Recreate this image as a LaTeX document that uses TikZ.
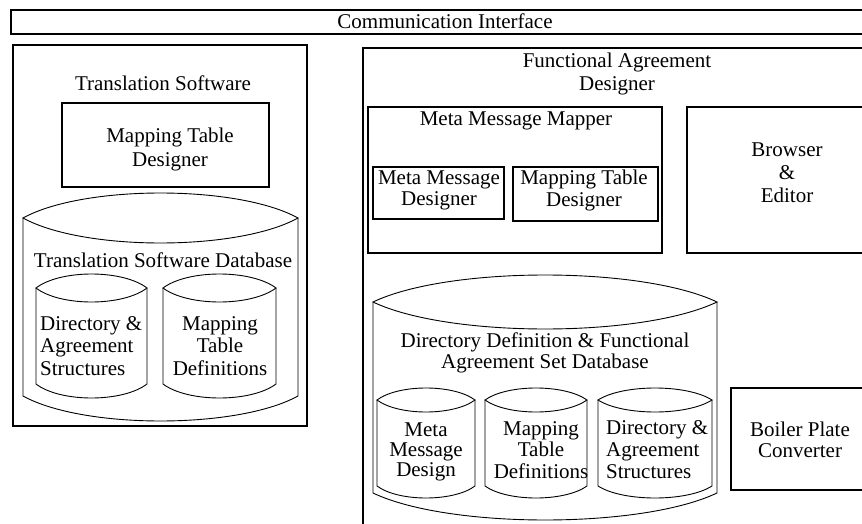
\documentclass[tikz,border=0pt]{standalone}
\usepackage{fontspec}
\setmainfont{Liberation Serif}
\begin{document}
\begin{tikzpicture}[x=1pt,y=-1pt,
  box/.style={draw=black,line width=2.4pt},
  dbline/.style={draw=black,line width=0.9pt},
  lbl/.style={inner sep=0pt,align=center,font=\fontsize{21}{23}\selectfont},
  lbll/.style={inner sep=0pt,align=left,font=\fontsize{21}{22.5}\selectfont}]
\newcommand{\dbcyl}[5]{%
  \pgfmathsetmacro\dbXa{#1+0.22*(#2-#1)}%
  \pgfmathsetmacro\dbXb{#2-0.22*(#2-#1)}%
  \pgfmathsetmacro\dbYu{#3-1.333*#5}%
  \pgfmathsetmacro\dbYd{#3+1.333*#5}%
  \pgfmathsetmacro\dbYb{#4+1.333*#5}%
  \draw[dbline] (#1,#3) .. controls (\dbXa,\dbYu) and (\dbXb,\dbYu) .. (#2,#3) .. controls (\dbXb,\dbYd) and (\dbXa,\dbYd) .. cycle;
  \draw[dbline] (#1,#3) -- (#1,#4) .. controls (\dbXa,\dbYb) and (\dbXb,\dbYb) .. (#2,#4) -- (#2,#3);
}
\useasboundingbox (0,0) rectangle (862,524);
\clip (0,0) rectangle (862,524);
\fill[white] (0,0) rectangle (862,524);

% Communication interface
\draw[box] (11,10) rectangle (900,34);
\node[lbl] (comm) at (445,21) {Communication Interface};

% Translation software
\draw[box] (13,45) rectangle (307,426);
\node[lbl] (ts) at (163,83) {Translation Software};
\draw[box] (62,103) rectangle (269,187);
\node[lbl,font=\fontsize{21}{24}\selectfont] (tsmtd) at (170,149) {Mapping Table\\Designer};
\dbcyl{23}{298}{218}{396}{25}
\node[lbl] (tsdb) at (163,260) {Translation Software Database};
\dbcyl{36}{147}{288}{384}{14}
\dbcyl{163}{276}{288}{384}{14}
\node[lbll,anchor=west] (tsdas) at (40,346) {Directory \&\\Agreement\\Structures};
\node[lbl,font=\fontsize{21}{22.5}\selectfont] (tsmtdef) at (220,346) {Mapping\\Table\\Definitions};

% Functional agreement designer
\draw[box] (363,48) rectangle (900,560);
\node[lbl] (fad) at (617,74) {Functional Agreement\\Designer};

\draw[box] (368,107) rectangle (662,253);
\node[lbl] (mmm) at (516,121) {Meta Message Mapper};
\draw[box] (373,167) rectangle (504,219);
\node[lbl,font=\fontsize{21}{21}\selectfont] (mmd) at (439,190) {Meta Message\\Designer};
\draw[box] (513,167) rectangle (658,221);
\node[lbl,font=\fontsize{21}{22}\selectfont] (mtd) at (584,190) {Mapping Table\\Designer};

\draw[box] (687,107) rectangle (900,253);
\node[lbl] (be) at (787,173) {Browser\\\&\\Editor};

\dbcyl{373}{717}{302}{493}{27}
\node[lbl,font=\fontsize{21}{21.5}\selectfont] (dddb) at (545,353) {Directory Definition \& Functional\\Agreement Set Database};
\dbcyl{377}{475}{400}{486}{12}
\dbcyl{485}{587}{400}{486}{12}
\dbcyl{598}{712}{400}{486}{12}
\node[lbl,font=\fontsize{21}{20}\selectfont] (mmdes) at (426,452) {Meta\\Message\\Design};
\node[lbl,font=\fontsize{21}{21.5}\selectfont] (mtdef) at (541,450) {Mapping\\Table\\Definitions};
\node[lbll,anchor=west,font=\fontsize{21}{22}\selectfont] (das) at (606,450) {Directory \&\\Agreement\\Structures};

\draw[box] (731,388) rectangle (900,490);
\node[lbl,font=\fontsize{21}{21}\selectfont] (bpc) at (800,440) {Boiler Plate\\Converter};
\end{tikzpicture}
\end{document}
